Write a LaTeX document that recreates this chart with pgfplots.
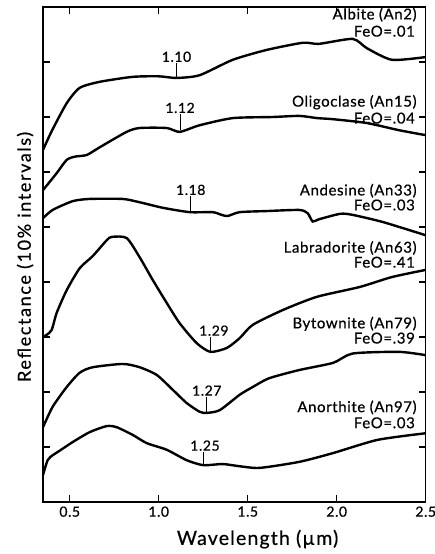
\documentclass[border=0pt]{standalone}
\usepackage{fontspec}
\setmainfont{Lato}[FakeBold=0.6]
\newfontfamily\axfont{Lato}[FakeBold=0.6, LetterSpace=9]
\newfontfamily\xlfont{Lato}[FakeBold=0.6, LetterSpace=6]
\newfontfamily\lbfont{Lato}[FakeBold=0.6, LetterSpace=4]
\usepackage{pgfplots}
\pgfplotsset{compat=1.18}
\begin{document}
\begin{tikzpicture}
\begin{axis}[
 scale only axis, width=382.7pt, height=495pt,
 xmin=0.35, xmax=2.5, ymin=0, ymax=9,
 xtick={0.5,1.0,1.5,2.0,2.5}, xticklabels={0.5,1.0,1.5,2.0,2.5},
 ytick={1,2,3,4,5,6,7,8}, yticklabels={},
 tick pos=both,
 tick align=inside, major tick length=7pt,
 every tick/.style={line width=1.2pt, black},
 axis line style={line width=1.5pt},
 ticklabel style={font=\lbfont\fontsize{14}{14}\selectfont},
 xticklabel style={yshift=-1pt},
 /pgf/number format/assume math mode=true,
 clip=false,
]
% Albite
\addplot[line width=2.4pt, smooth, tension=0.4] coordinates {
(0.35,6.40) (0.40,6.75) (0.483,7.25) (0.556,7.53) (0.669,7.64) (0.854,7.73) (1.00,7.74) (1.10,7.71) (1.23,7.76)
(1.416,8.04) (1.607,8.22) (1.81,8.35) (1.90,8.33) (2.09,8.42) (2.17,8.25) (2.31,8.04) (2.5,8.09)};
% Oligoclase
\addplot[line width=2.4pt, smooth, tension=0.4] coordinates {
(0.35,5.67) (0.427,5.98) (0.483,6.22) (0.53,6.28) (0.596,6.31) (0.669,6.45) (0.82,6.73) (0.893,6.80) (1.045,6.80)
(1.118,6.73) (1.23,6.85) (1.416,6.98) (1.64,7.00) (1.79,7.02) (1.89,6.98) (1.98,6.96) (2.17,6.89) (2.35,6.76) (2.5,6.67)};
% Andesine
\addplot[line width=2.4pt, smooth, tension=0.4] coordinates {
(0.35,5.16) (0.404,5.31) (0.517,5.47) (0.612,5.51) (0.798,5.51) (0.893,5.45) (1.022,5.35) (1.174,5.27) (1.303,5.27)
(1.354,5.22) (1.388,5.20) (1.455,5.27) (1.607,5.29) (1.79,5.31) (1.837,5.25) (1.865,5.10) (1.90,5.14) (2.02,5.24)
(2.09,5.22) (2.26,5.09) (2.5,4.85)};
% Labradorite
\addplot[line width=2.4pt, smooth, tension=0.4] coordinates {
(0.35,3.00) (0.371,3.04) (0.399,3.13) (0.427,3.44) (0.483,3.85) (0.556,4.25) (0.629,4.47) (0.708,4.76) (0.736,4.82)
(0.82,4.80) (0.893,4.45) (0.966,4.04) (1.045,3.62) (1.118,3.25) (1.213,2.89) (1.29,2.73) (1.382,2.80) (1.455,2.98)
(1.528,3.22) (1.697,3.49) (1.888,3.73) (2.13,3.91) (2.31,4.09) (2.5,4.22)};
% Bytownite
\addplot[line width=2.4pt, smooth, tension=0.4] coordinates {
(0.35,1.36) (0.404,1.73) (0.483,2.09) (0.556,2.35) (0.629,2.45) (0.798,2.51) (0.893,2.45) (0.989,2.31) (1.079,2.04)
(1.157,1.80) (1.23,1.64) (1.27,1.62) (1.343,1.67) (1.455,1.95) (1.528,2.09) (1.62,2.25) (1.79,2.40) (1.98,2.53)
(2.09,2.70) (2.35,2.73) (2.5,2.67)};
% Anorthite
\addplot[line width=2.4pt, smooth, tension=0.4] coordinates {
(0.35,0.49) (0.376,0.76) (0.404,0.85) (0.433,0.91) (0.517,1.09) (0.612,1.27) (0.708,1.38) (0.764,1.36) (0.854,1.22)
(0.933,1.07) (1.045,0.95) (1.157,0.76) (1.25,0.67) (1.36,0.69) (1.455,0.65) (1.567,0.62) (1.79,0.73) (1.98,0.89)
(2.23,1.13) (2.5,1.25)};
% band markers
\addplot[line width=1.1pt] coordinates {(1.10,7.73) (1.10,7.98)};
\addplot[line width=1.1pt] coordinates {(1.12,6.76) (1.12,7.05)};
\addplot[line width=1.1pt] coordinates {(1.18,5.28) (1.18,5.56)};
\addplot[line width=1.1pt] coordinates {(1.29,2.73) (1.29,3.00)};
\addplot[line width=1.1pt] coordinates {(1.27,1.62) (1.27,1.91)};
\addplot[line width=1.1pt] coordinates {(1.25,0.67) (1.25,0.91)};
\begin{scope}[every node/.style={font=\lbfont\fontsize{14}{14}\selectfont, inner sep=1pt, anchor=south}]
\node at (axis cs:1.10,7.98) {1.10};
\node at (axis cs:1.12,7.05) {1.12};
\node at (axis cs:1.18,5.56) {1.18};
\node at (axis cs:1.31,3.00) {1.29};
\node at (axis cs:1.27,1.91) {1.27};
\node at (axis cs:1.26,0.91) {1.25};
\end{scope}
\begin{scope}[every node/.style={font=\lbfont\fontsize{15}{15}\selectfont, inner sep=0pt, anchor=east}]
\node at (axis cs:2.45,8.86) {Albite (An2)};
\node at (axis cs:2.44,8.56) {FeO=.01};
\node at (axis cs:2.45,7.27) {Oligoclase (An15)};
\node at (axis cs:2.44,6.98) {FeO=.04};
\node at (axis cs:2.45,5.66) {Andesine (An33)};
\node at (axis cs:2.44,5.40) {FeO=.03};
\node at (axis cs:2.45,4.62) {Labradorite (An63)};
\node at (axis cs:2.44,4.36) {FeO=.41};
\node at (axis cs:2.45,3.24) {Bytownite (An79)};
\node at (axis cs:2.44,2.98) {FeO=.39};
\node at (axis cs:2.45,1.72) {Anorthite (An97)};
\node at (axis cs:2.44,1.44) {FeO=.03};
\end{scope}
\node[font=\axfont\fontsize{18}{18}\selectfont, rotate=90, anchor=base west, inner sep=0pt] at (axis cs:0.281,2.18) {Reflectance (10\% intervals)};
\node[font=\xlfont\fontsize{19.5}{19.5}\selectfont, anchor=base west, inner sep=0pt] at (axis cs:1.101,-0.78) {Wavelength (µm)};
\end{axis}
% mirrored ticks on top and right
\begin{axis}[
 scale only axis, width=382.7pt, height=495pt,
 xmin=0.35, xmax=2.5, ymin=0, ymax=9,
 axis x line*=top, axis y line*=right,
 xtick={0.5,1.0,1.5,2.0,2.5}, xticklabels={},
 ytick={1,2,3,4,5,6,7,8}, yticklabels={},
 tick align=inside, major tick length=7pt,
 every tick/.style={line width=1.2pt, black},
 axis line style={line width=1.5pt, -},
]
\end{axis}
\pgfresetboundingbox
\path (current axis.south west) ++(-43pt,-52pt) rectangle ++(435pt,554pt);
\end{tikzpicture}
\end{document}
